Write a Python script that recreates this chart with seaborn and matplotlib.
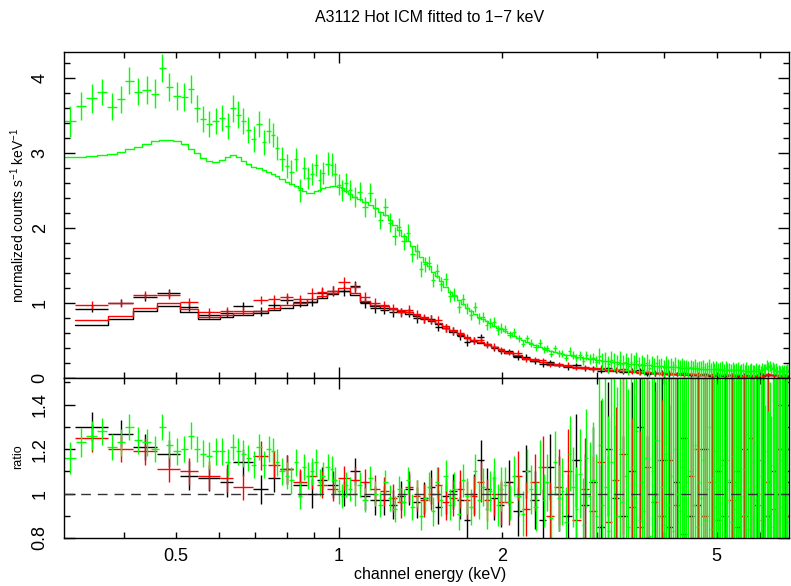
import numpy as np
import pandas as pd
import matplotlib
matplotlib.use("Agg")
import matplotlib.pyplot as plt
import seaborn as sns
from matplotlib.ticker import FixedLocator, FuncFormatter, MultipleLocator

# ---------------- data ----------------
TITLE = "A3112 Hot ICM fitted to 1\u22127 keV"
XLABEL = "channel energy (keV)"
YLABEL_TOP = "normalized counts s$^{-1}$ keV$^{-1}$"
YLABEL_BOT = "ratio"

# MOS-like groups (black, red): channel bin edges in keV
mos_edges_low = [0.325, 0.374, 0.416, 0.461, 0.508, 0.549, 0.603, 0.637, 0.694, 0.739,
                 0.778, 0.822, 0.873, 0.911, 0.950, 0.996, 1.048, 1.093, 1.141, 1.191]
mos_edges_mid = [1.235, 1.28, 1.325, 1.37, 1.415, 1.46, 1.505, 1.55, 1.6, 1.65, 1.7, 1.75,
                 1.8, 1.855, 1.91, 1.965, 2.02]
mos_edges_high = [2.1, 2.18, 2.26, 2.34, 2.42, 2.5, 2.6, 2.7, 2.8, 2.9, 3.0, 3.1, 3.2, 3.3,
                  3.42, 3.54, 3.66, 3.78, 3.9, 4.02, 4.15, 4.28, 4.41, 4.54, 4.68, 4.82,
                  4.96, 5.1, 5.25, 5.4, 5.55, 5.7, 5.85, 6.0, 6.15, 6.3, 6.45, 6.6, 6.75, 6.9]

black_model = [0.71, 0.79, 0.89, 0.96, 0.88, 0.79, 0.82, 0.84, 0.87, 0.91, 0.94, 0.97, 1.02,
               1.07, 1.12, 1.16, 1.11, 1.01, 0.96,
               0.94, 0.92, 0.89, 0.86, 0.83, 0.80, 0.76, 0.72, 0.67, 0.62, 0.58, 0.54, 0.50,
               0.47, 0.44, 0.41, 0.38,
               0.34, 0.30, 0.26, 0.23, 0.207, 0.187, 0.171, 0.157, 0.145, 0.134, 0.124, 0.116,
               0.108, 0.101, 0.094, 0.087, 0.079, 0.072, 0.066, 0.061, 0.057, 0.053, 0.05,
               0.047, 0.044, 0.041, 0.039, 0.037, 0.035, 0.034, 0.033, 0.032, 0.031, 0.03,
               0.033, 0.043, 0.035, 0.029, 0.028, 0.027]
black_ratio = [1.30, 1.27, 1.21, 1.18, 1.08, 1.07, 1.05, 1.14, 1.02, 1.07, 1.11, 1.04, 1.00,
               1.06, 1.04, 1.00, 1.10, 0.99, 0.97,
               0.97, 0.95, 0.99, 1.02, 0.96, 0.98, 1.03, 0.94, 0.99, 1.01, 0.97, 0.88, 1.00,
               1.15, 1.02, 0.98, 0.95,
               1.05, 0.92, 1.10, 0.97, 0.88, 1.12, 1.00, 0.90, 1.15, 0.95, 1.05, 0.85, 1.20,
               0.98, 0.90, 1.10, 1.30, 0.80, 1.00, 1.15, 0.85, 1.05, 1.25, 0.90, 0.95, 1.20,
               0.80, 1.10, 0.90, 1.05, 0.85, 1.20, 1.00, 0.95, 1.15, 0.90, 1.10, 1.00, 0.85,
               1.05]
black_rerr = [0.065, 0.06, 0.06, 0.06, 0.065, 0.06, 0.065, 0.06, 0.065, 0.065, 0.065, 0.06,
              0.065, 0.06, 0.06, 0.055, 0.06, 0.065, 0.065,
              0.065, 0.065, 0.065, 0.07, 0.07, 0.07, 0.075, 0.075, 0.08, 0.08, 0.085, 0.085,
              0.09, 0.09, 0.095, 0.1, 0.1,
              0.1, 0.11, 0.12, 0.13, 0.14, 0.15, 0.17, 0.19, 0.21, 0.23, 0.25, 0.28, 0.3,
              0.33, 0.36, 0.4, 0.43, 0.46, 0.5, 0.52, 0.55, 0.58, 0.6, 0.62, 0.65, 0.67, 0.7,
              0.72, 0.75, 0.77, 0.8, 0.82, 0.85, 0.85, 0.8, 0.6, 0.75, 0.9, 0.9, 0.95]

red_model = [0.78, 0.83, 0.93, 1.00, 0.92, 0.81, 0.84, 0.87, 0.89, 0.93, 0.97, 1.00, 1.05,
             1.10, 1.14, 1.20, 1.14, 1.03, 0.98,
             0.96, 0.94, 0.91, 0.88, 0.85, 0.82, 0.78, 0.74, 0.69, 0.64, 0.59, 0.55, 0.51,
             0.48, 0.45, 0.42, 0.39,
             0.35, 0.31, 0.27, 0.24, 0.215, 0.195, 0.178, 0.163, 0.15, 0.139, 0.129, 0.12,
             0.112, 0.105, 0.098, 0.09, 0.082, 0.075, 0.069, 0.064, 0.06, 0.056, 0.052,
             0.049, 0.046, 0.043, 0.041, 0.039, 0.037, 0.035, 0.034, 0.033, 0.032, 0.031,
             0.034, 0.045, 0.036, 0.03, 0.029, 0.028]
red_ratio = [1.25, 1.20, 1.19, 1.11, 1.10, 1.08, 1.07, 1.03, 1.17, 1.13, 1.11, 1.05, 1.08,
             1.04, 1.02, 1.07, 1.06, 1.05, 1.02,
             1.01, 0.98, 0.96, 1.03, 0.99, 0.97, 1.00, 1.04, 0.96, 0.98, 1.02, 0.97, 0.99,
             1.05, 0.97, 1.00, 0.96,
             0.96, 1.08, 0.93, 1.05, 1.12, 0.90, 1.03, 1.10, 0.88, 1.02, 0.92, 1.14, 0.87,
             1.06, 1.18, 0.94, 0.85, 1.12, 0.96, 0.90, 1.15, 0.95, 0.82, 1.08, 1.20, 0.90,
             1.05, 0.88, 1.15, 0.97, 1.10, 0.90, 1.25, 1.00, 0.88, 1.05, 0.93, 1.20, 1.05,
             0.90]
red_rerr = [0.065, 0.06, 0.06, 0.06, 0.06, 0.065, 0.065, 0.06, 0.065, 0.06, 0.065, 0.06,
            0.06, 0.06, 0.055, 0.055, 0.06, 0.06, 0.065,
            0.065, 0.065, 0.07, 0.07, 0.07, 0.075, 0.075, 0.08, 0.08, 0.08, 0.085, 0.085,
            0.09, 0.09, 0.095, 0.1, 0.1,
            0.1, 0.11, 0.12, 0.13, 0.14, 0.15, 0.17, 0.19, 0.21, 0.23, 0.25, 0.28, 0.3,
            0.33, 0.36, 0.4, 0.43, 0.46, 0.5, 0.52, 0.55, 0.58, 0.6, 0.62, 0.65, 0.67, 0.7,
            0.72, 0.75, 0.77, 0.8, 0.82, 0.85, 0.85, 0.8, 0.6, 0.75, 0.9, 0.9, 0.95]

# pn-like group (green): channel bin edges in keV
pn_edges_low = [0.310, 0.326, 0.341, 0.357, 0.372, 0.388, 0.402, 0.417, 0.433, 0.449,
                0.464, 0.478, 0.493, 0.510, 0.525, 0.540, 0.553, 0.567, 0.583, 0.600,
                0.615, 0.630, 0.644, 0.658, 0.672, 0.687, 0.703, 0.719, 0.734, 0.748,
                0.761, 0.776, 0.793, 0.808, 0.824, 0.840, 0.855, 0.870, 0.885, 0.900,
                0.914, 0.928, 0.944, 0.962, 0.977, 0.992, 1.007, 1.021, 1.039, 1.059, 1.080]
pn_edges_mid = [1.105, 1.13, 1.155, 1.18, 1.205, 1.23, 1.255, 1.28, 1.305, 1.33, 1.355,
                1.38, 1.405, 1.43, 1.455, 1.48, 1.505, 1.53, 1.56, 1.59, 1.62, 1.65, 1.68,
                1.71, 1.74, 1.77, 1.80, 1.83, 1.86, 1.89, 1.92, 1.95, 1.98, 2.01]
pn_edges_high = [2.05, 2.09, 2.13, 2.17, 2.21, 2.25, 2.29, 2.33, 2.37, 2.41,
                 2.45, 2.49, 2.53, 2.57, 2.61, 2.65, 2.69, 2.73, 2.77, 2.81,
                 2.85, 2.89, 2.93, 2.97, 3.01, 3.05, 3.09, 3.13, 3.17, 3.21,
                 3.25, 3.29, 3.33, 3.37, 3.41, 3.45, 3.49, 3.53, 3.57, 3.61,
                 3.65, 3.69, 3.73, 3.77, 3.81, 3.85, 3.89, 3.93, 3.97, 4.01,
                 4.05, 4.09, 4.13, 4.17, 4.21, 4.25, 4.29, 4.33, 4.37, 4.41,
                 4.45, 4.49, 4.53, 4.57, 4.61, 4.65, 4.69, 4.73, 4.77, 4.81,
                 4.85, 4.89, 4.93, 4.97, 5.01, 5.05, 5.09, 5.13, 5.17, 5.21,
                 5.25, 5.29, 5.33, 5.37, 5.41, 5.45, 5.49, 5.53, 5.57, 5.61,
                 5.65, 5.69, 5.73, 5.77, 5.81, 5.85, 5.89, 5.93, 5.97, 6.01,
                 6.05, 6.09, 6.13, 6.17, 6.21, 6.25, 6.29, 6.33, 6.37, 6.41,
                 6.45, 6.49, 6.53, 6.57, 6.61, 6.65, 6.69, 6.73, 6.77, 6.81,
                 6.85, 6.89]

green_model_low = [2.95, 2.95, 2.96, 2.98, 2.99, 3.02, 3.05, 3.08, 3.12, 3.16,
                   3.18, 3.18, 3.16, 3.12, 3.06, 3.00, 2.93, 2.89, 2.88, 2.91,
                   2.95, 2.97, 2.95, 2.90, 2.85, 2.82, 2.80, 2.78, 2.75, 2.72,
                   2.69, 2.66, 2.62, 2.59, 2.56, 2.53, 2.50, 2.47, 2.47, 2.49,
                   2.51, 2.53, 2.55, 2.56, 2.56, 2.55, 2.53, 2.50, 2.46, 2.41]
green_model_mid = [2.39, 2.35, 2.31, 2.27, 2.22, 2.17, 2.11, 2.04, 1.97, 1.90,
                   1.83, 1.76, 1.69, 1.62, 1.55, 1.49, 1.42, 1.36, 1.29, 1.22,
                   1.15, 1.09, 1.04, 0.99, 0.94, 0.90, 0.86, 0.82, 0.79, 0.76,
                   0.73, 0.70, 0.67, 0.65]
green_model_high = [0.63, 0.60, 0.565, 0.535, 0.505, 0.48, 0.455, 0.435, 0.415, 0.395,
                    0.378, 0.362, 0.348, 0.335, 0.323, 0.313, 0.303, 0.294, 0.285, 0.277,
                    0.27, 0.262, 0.255, 0.249, 0.243, 0.237, 0.232, 0.226, 0.221, 0.216,
                    0.212, 0.207, 0.203, 0.199, 0.195, 0.191, 0.188, 0.185, 0.181, 0.178,
                    0.175, 0.172, 0.169, 0.167, 0.164, 0.162, 0.159, 0.157, 0.155, 0.153,
                    0.151, 0.149, 0.147, 0.145, 0.143, 0.141, 0.139, 0.138, 0.136, 0.134,
                    0.133, 0.131, 0.13, 0.128, 0.127, 0.125, 0.124, 0.123, 0.121, 0.12,
                    0.119, 0.118, 0.117, 0.116, 0.115, 0.114, 0.113, 0.112, 0.111, 0.11,
                    0.109, 0.108, 0.107, 0.106, 0.105, 0.104, 0.103, 0.102, 0.101, 0.1,
                    0.099, 0.099, 0.098, 0.097, 0.097, 0.096, 0.096, 0.096, 0.097, 0.099,
                    0.103, 0.11, 0.12, 0.133, 0.146, 0.155, 0.152, 0.14, 0.124, 0.11,
                    0.1, 0.094, 0.091, 0.089, 0.088, 0.088, 0.09, 0.093, 0.092, 0.088,
                    0.086, 0.085]

green_ratio_low = [1.16, 1.23, 1.26, 1.28, 1.21, 1.23, 1.30, 1.24, 1.23, 1.20,
                   1.30, 1.22, 1.19, 1.20, 1.26, 1.20, 1.18, 1.17, 1.19, 1.19,
                   1.14, 1.21, 1.19, 1.18, 1.16, 1.13, 1.21, 1.13, 1.20, 1.19,
                   1.14, 1.10, 1.08, 1.06, 1.14, 0.99, 1.12, 1.08, 1.10, 1.14,
                   1.05, 1.08, 1.12, 1.11, 1.06, 1.01, 0.99, 1.04, 1.02, 1.00]
green_ratio_mid = [1.04, 0.97, 1.07, 1.00, 0.95, 1.05, 0.98, 0.93, 1.02, 0.96,
                   1.06, 0.94, 1.00, 0.90, 0.98, 1.03, 0.92, 1.05, 0.97, 1.08,
                   0.95, 1.02, 0.91, 1.06, 0.99, 0.94, 1.10, 0.97, 1.03, 0.93,
                   1.01, 1.07, 0.95, 1.02]
green_ratio_high = [1.04, 0.96, 1.08, 0.99, 0.91, 1.10, 1.02, 0.94, 1.12, 0.97,
                    1.05, 0.89, 1.14, 0.98, 1.01, 0.87, 1.18, 1.03, 0.93, 1.09,
                    0.86, 1.16, 0.99, 1.06, 0.90,
                    1.22, 0.95, 1.03, 0.83, 1.14, 1.00, 0.90, 1.20, 0.96, 1.08,
                    0.85, 1.12, 0.98, 1.28, 0.88, 1.05, 0.92, 1.16, 0.81, 1.10,
                    0.97, 1.24, 0.90, 1.03, 0.86, 1.18, 0.95, 1.08, 0.83, 1.20,
                    1.00, 0.92, 1.12, 0.97, 1.05, 0.90, 1.10, 0.95, 1.22, 0.85,
                    1.05, 0.98, 1.15, 0.88, 1.02, 1.30, 0.84, 1.07, 0.94, 1.19,
                    0.89, 1.01, 1.13, 0.82, 1.25, 0.96, 1.06, 0.87, 1.17, 0.93,
                    1.04, 1.21, 0.86, 0.99, 1.11, 0.91, 1.27, 0.84, 1.02, 1.14,
                    0.89, 0.97, 1.23, 0.92, 1.08, 0.83, 1.16, 1.00, 0.90, 1.19,
                    0.95, 1.06, 0.85, 1.13, 0.98, 1.26, 0.88, 1.03, 0.94, 1.15,
                    0.81, 1.09, 0.96, 1.20, 0.87, 1.04, 0.93]

green_rerr_low = [0.07, 0.065, 0.065, 0.06, 0.06, 0.06, 0.06, 0.06, 0.06, 0.06,
                  0.06, 0.06, 0.06, 0.06, 0.06, 0.06, 0.06, 0.06, 0.06, 0.06,
                  0.06, 0.06, 0.06, 0.06, 0.06, 0.06, 0.06, 0.06, 0.06, 0.06,
                  0.06, 0.06, 0.06, 0.06, 0.06, 0.06, 0.06, 0.06, 0.06, 0.06,
                  0.06, 0.06, 0.06, 0.06, 0.06, 0.055, 0.055, 0.055, 0.055, 0.055]
green_rerr_mid = [0.055, 0.055, 0.055, 0.055, 0.055, 0.055, 0.06, 0.06, 0.06, 0.06,
                  0.06, 0.06, 0.06, 0.065, 0.065, 0.065, 0.065, 0.07, 0.07, 0.07,
                  0.07, 0.075, 0.075, 0.075, 0.08, 0.08, 0.08, 0.085, 0.085, 0.09,
                  0.09, 0.09, 0.095, 0.1]
green_rerr_high = [0.08, 0.08, 0.09, 0.09, 0.10, 0.10, 0.11, 0.11, 0.12, 0.12,
                   0.13, 0.13, 0.14, 0.15, 0.15, 0.16, 0.17, 0.18, 0.19, 0.20,
                   0.21, 0.22, 0.24, 0.26, 0.28,
                   0.45, 0.48, 0.50, 0.52, 0.55, 0.56, 0.58, 0.60, 0.60, 0.62,
                   0.62, 0.64, 0.65, 0.65, 0.66, 0.68, 0.68, 0.70, 0.70, 0.70,
                   0.70, 0.72, 0.72, 0.72, 0.74, 0.74, 0.75, 0.75, 0.75, 0.76,
                   0.76, 0.76, 0.78, 0.78, 0.78, 0.78, 0.78, 0.80, 0.80, 0.80,
                   0.80, 0.80, 0.80, 0.80, 0.80, 0.82, 0.82, 0.82, 0.82, 0.82,
                   0.82, 0.84, 0.84, 0.84, 0.84, 0.84, 0.85, 0.85, 0.85, 0.85,
                   0.85, 0.86, 0.86, 0.86, 0.86, 0.88, 0.88, 0.88, 0.88, 0.88,
                   0.88, 0.88, 0.85, 0.80, 0.75, 0.70, 0.62, 0.55, 0.50, 0.45,
                   0.42, 0.44, 0.50, 0.58, 0.66, 0.75, 0.80, 0.85, 0.88, 0.88,
                   0.90, 0.90, 0.90, 0.90, 0.90, 0.90, 0.90]

mos_edges = mos_edges_low + mos_edges_mid + mos_edges_high
pn_edges = pn_edges_low + pn_edges_mid + pn_edges_high
green_model = green_model_low + green_model_mid + green_model_high
green_ratio = green_ratio_low + green_ratio_mid + green_ratio_high
green_rerr = green_rerr_low + green_rerr_mid + green_rerr_high

# ---------------- style ----------------
sns.set_style("ticks", {"axes.edgecolor": "black", "xtick.color": "black",
                        "ytick.color": "black", "text.color": "black",
                        "axes.labelcolor": "black"})
plt.rcParams["font.family"] = ["Liberation Sans", "DejaVu Sans"]
plt.rcParams["mathtext.fontset"] = "custom"
plt.rcParams["mathtext.rm"] = "Liberation Sans"
plt.rcParams["mathtext.it"] = "Liberation Sans"

W_PX, H_PX = 791, 586
fig = plt.figure(figsize=(W_PX / 100, H_PX / 100), dpi=100)
left = 64 / W_PX
width = (789 - 64) / W_PX
ax1 = fig.add_axes([left, 1 - 378 / H_PX, width, (378 - 52) / H_PX])
ax2 = fig.add_axes([left, 1 - 538 / H_PX, width, (538 - 378) / H_PX], sharex=ax1)

LW = 1.0


def draw_group(edges, model, ratio, rerr, color):
    edges = np.asarray(edges, float)
    model = np.asarray(model, float)
    ratio = np.asarray(ratio, float)
    rerr = np.asarray(rerr, float)
    assert len(edges) == len(model) + 1 == len(ratio) + 1 == len(rerr) + 1, \
        (len(edges), len(model), len(ratio), len(rerr))
    lo, hi = edges[:-1], edges[1:]
    cen = 0.5 * (lo + hi)
    xerr = np.vstack([cen - lo, hi - cen])
    ax1.errorbar(cen, ratio * model, xerr=xerr, yerr=rerr * model, fmt="none",
                 ecolor=color, elinewidth=LW, capsize=0)
    step = pd.DataFrame({"E": edges, "model": np.append(model, model[-1])})
    sns.lineplot(data=step, x="E", y="model", ax=ax1, drawstyle="steps-post",
                 color=color, lw=LW, estimator=None, sort=False, legend=False)
    ax2.errorbar(cen, ratio, xerr=xerr, yerr=rerr, fmt="none",
                 ecolor=color, elinewidth=LW, capsize=0)


draw_group(mos_edges, black_model, black_ratio, black_rerr, "#000000")
draw_group(mos_edges, red_model, red_ratio, red_rerr, "#ff0000")
draw_group(pn_edges, green_model, green_ratio, green_rerr, "#00ff00")

ax2.axhline(1.0, color="#333333", lw=LW, ls=(0, (7, 5)), zorder=10)

ax1.set_xscale("log")
ax1.set_xlim(0.31, 6.8)
ax1.set_ylim(0, 4.347)
ax2.set_ylim(0.8, 1.52)
for ax in (ax1, ax2):
    ax.set_xlabel("")
    ax.set_ylabel("")

ax1.xaxis.set_major_locator(FixedLocator([1.0]))
ax1.xaxis.set_minor_locator(FixedLocator([0.4, 0.5, 0.6, 0.7, 0.8, 0.9, 2, 3, 4, 5, 6]))
ax1.xaxis.set_major_formatter(FuncFormatter(lambda v, p: "%g" % v))
ax1.xaxis.set_minor_formatter(
    FuncFormatter(lambda v, p: ("%g" % v) if any(abs(v - t) < 1e-6 for t in (0.5, 2, 5)) else ""))

ax1.yaxis.set_major_locator(MultipleLocator(1))
ax1.yaxis.set_minor_locator(MultipleLocator(0.2))
ax1.yaxis.set_major_formatter(FuncFormatter(lambda v, p: "%g" % v))
ax2.yaxis.set_major_locator(FixedLocator([0.8, 1.0, 1.2, 1.4]))
ax2.yaxis.set_minor_locator(MultipleLocator(0.1))
ax2.yaxis.set_major_formatter(FuncFormatter(lambda v, p: "%g" % v))

for ax in (ax1, ax2):
    ax.tick_params(which="both", direction="in", top=True, right=True, width=1.0,
                   color="black")
    ax.tick_params(which="major", length=8)
    ax.tick_params(which="minor", length=4)
    ax.tick_params(axis="y", which="major", labelsize=13, pad=11, labelrotation=90)
    ax.tick_params(axis="x", which="both", labelsize=13, pad=7)
    for s in ax.spines.values():
        s.set_linewidth(1.0)
        s.set_color("black")
        s.set_visible(True)
ax1.tick_params(axis="x", which="both", labelbottom=False)
for ax in (ax1, ax2):
    for lab in ax.get_yticklabels():
        lab.set_verticalalignment("center")

fig.text(430 / W_PX, 1 - 18 / H_PX, TITLE, ha="center", va="center", fontsize=11.5)
fig.text(430 / W_PX, 1 - 575 / H_PX, XLABEL, ha="center", va="center", fontsize=11.5)
fig.text(18 / W_PX, 1 - 215 / H_PX, YLABEL_TOP, ha="center", va="center",
         rotation=90, fontsize=10)
fig.text(18 / W_PX, 1 - 457 / H_PX, YLABEL_BOT, ha="center", va="center",
         rotation=90, fontsize=9)

fig.savefig("out.png", dpi=100)
